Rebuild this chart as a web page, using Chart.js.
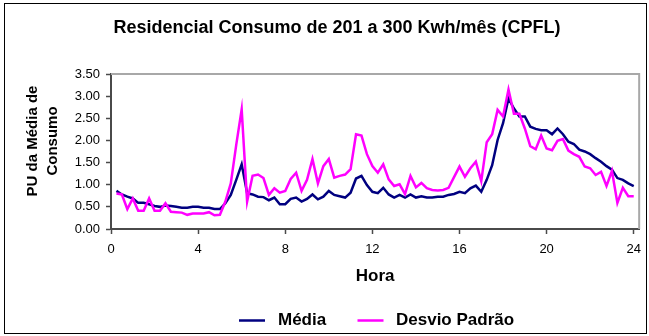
<!DOCTYPE html>
<html>
<head>
<meta charset="utf-8">
<script src="https://cdn.jsdelivr.net/npm/chart.js@4.4.1/dist/chart.umd.min.js"></script>
<style>
  html, body { margin: 0; padding: 0; background: #fff; overflow: hidden; }
  #wrap { width: 649px; height: 336px; }
</style>
</head>
<body>
<div id="wrap"><canvas id="c" width="649" height="336"></canvas></div>
<script>
// Time of day (hours), one reading every 15 minutes
const hours = [
  0.25, 0.5, 0.75, 1, 1.25, 1.5, 1.75, 2, 2.25, 2.5, 2.75, 3,
  3.25, 3.5, 3.75, 4, 4.25, 4.5, 4.75, 5, 5.25, 5.5, 5.75, 6,
  6.25, 6.5, 6.75, 7, 7.25, 7.5, 7.75, 8, 8.25, 8.5, 8.75, 9,
  9.25, 9.5, 9.75, 10, 10.25, 10.5, 10.75, 11, 11.25, 11.5, 11.75, 12,
  12.25, 12.5, 12.75, 13, 13.25, 13.5, 13.75, 14, 14.25, 14.5, 14.75, 15,
  15.25, 15.5, 15.75, 16, 16.25, 16.5, 16.75, 17, 17.25, 17.5, 17.75, 18,
  18.25, 18.5, 18.75, 19, 19.25, 19.5, 19.75, 20, 20.25, 20.5, 20.75, 21,
  21.25, 21.5, 21.75, 22, 22.25, 22.5, 22.75, 23, 23.25, 23.5, 23.75, 24
];

// Média (PU)
const media = [
  0.86, 0.78, 0.73, 0.69, 0.59, 0.59, 0.56, 0.52, 0.50, 0.53, 0.52, 0.50,
  0.48, 0.48, 0.50, 0.50, 0.48, 0.48, 0.45, 0.45, 0.58, 0.77, 1.11, 1.46,
  0.81, 0.78, 0.73, 0.72, 0.65, 0.71, 0.56, 0.56, 0.68, 0.71, 0.62, 0.68,
  0.78, 0.67, 0.73, 0.86, 0.77, 0.74, 0.71, 0.82, 1.14, 1.20, 0.99, 0.84,
  0.81, 0.93, 0.78, 0.71, 0.77, 0.71, 0.78, 0.71, 0.74, 0.71, 0.71, 0.73,
  0.73, 0.77, 0.79, 0.84, 0.81, 0.92, 0.98, 0.84, 1.11, 1.44, 2.01, 2.39,
  2.95, 2.72, 2.54, 2.54, 2.31, 2.26, 2.23, 2.23, 2.14, 2.27, 2.14, 1.97,
  1.92, 1.79, 1.75, 1.69, 1.60, 1.52, 1.42, 1.34, 1.15, 1.11, 1.03, 0.97
];

// Desvio Padrão (PU)
const desvioPadrao = [
  0.80, 0.78, 0.45, 0.69, 0.41, 0.41, 0.69, 0.41, 0.41, 0.58, 0.39, 0.38,
  0.37, 0.32, 0.35, 0.35, 0.35, 0.38, 0.31, 0.32, 0.62, 1.03, 1.90, 2.70,
  0.62, 1.20, 1.23, 1.15, 0.77, 0.92, 0.82, 0.86, 1.13, 1.27, 0.86, 1.11,
  1.58, 1.03, 1.42, 1.58, 1.16, 1.20, 1.23, 1.35, 2.14, 2.11, 1.69, 1.42,
  1.27, 1.46, 1.12, 0.97, 1.01, 0.79, 1.20, 0.94, 1.04, 0.92, 0.88, 0.87,
  0.88, 0.93, 1.17, 1.41, 1.18, 1.37, 1.52, 1.08, 1.96, 2.14, 2.69, 2.54,
  3.15, 2.60, 2.60, 2.27, 1.87, 1.80, 2.11, 1.82, 1.78, 1.99, 2.03, 1.77,
  1.69, 1.63, 1.41, 1.37, 1.22, 1.29, 0.97, 1.31, 0.59, 0.93, 0.74, 0.74
];

const xTickValues = [0, 4, 8, 12, 16, 20, 24];
const yTickValues = [0, 0.5, 1, 1.5, 2, 2.5, 3, 3.5];

const chartTitle = 'Residencial Consumo de 201 a 300 Kwh/mês (CPFL)';
const yAxisTitle = ['PU da Média de', 'Consumo'];
const xAxisTitle = 'Hora';
const seriesNames = ['Média', 'Desvio Padrão'];
const seriesColors = ['#000080', '#FF00FF'];

const FONT = "'Liberation Sans', Arial, Helvetica, sans-serif";
const AXIS_COLOR = '#4a4a4a';

const toPoints = (ys) => hours.map((h, i) => ({ x: h, y: ys[i] }));

// Frame, plot border, title, vertical axis title and legend
const decorations = {
  id: 'decorations',
  afterDraw(chart) {
    const ctx = chart.ctx;
    const a = chart.chartArea;
    ctx.save();

    // outer frame
    ctx.strokeStyle = '#000';
    ctx.lineWidth = 1;
    ctx.strokeRect(4.5, 3.5, 642, 330);

    // plot area top and right edges
    ctx.strokeStyle = '#a8a8a8';
    ctx.lineWidth = 2;
    ctx.beginPath();
    ctx.moveTo(a.left, a.top);
    ctx.lineTo(a.right, a.top);
    ctx.lineTo(a.right, a.bottom);
    ctx.stroke();

    // chart title
    ctx.fillStyle = '#000';
    ctx.font = 'bold 18px ' + FONT;
    ctx.textAlign = 'center';
    ctx.textBaseline = 'middle';
    ctx.fillText(chartTitle, 337, 28);

    // vertical axis title, two lines
    ctx.font = 'bold 15px ' + FONT;
    ctx.textBaseline = 'alphabetic';
    const cy = 141;
    [37, 57].forEach((bx, i) => {
      ctx.save();
      ctx.translate(bx, cy);
      ctx.rotate(-Math.PI / 2);
      ctx.fillText(yAxisTitle[i], 0, 0);
      ctx.restore();
    });

    // legend
    const ly = 320.5;
    const items = [{ x0: 239, tx: 278 }, { x0: 357.5, tx: 396 }];
    ctx.font = 'bold 17px ' + FONT;
    ctx.textAlign = 'left';
    ctx.textBaseline = 'middle';
    chart.data.datasets.forEach((ds, i) => {
      const it = items[i];
      ctx.strokeStyle = ds.borderColor;
      ctx.lineWidth = 2.5;
      ctx.beginPath();
      ctx.moveTo(it.x0, ly);
      ctx.lineTo(it.x0 + 26, ly);
      ctx.stroke();
      ctx.fillStyle = '#000';
      ctx.fillText(ds.label, it.tx, ly);
    });

    ctx.restore();
  }
};

new Chart(document.getElementById('c'), {
  type: 'line',
  data: {
    datasets: [
      {
        label: seriesNames[0],
        data: toPoints(media),
        borderColor: seriesColors[0],
        backgroundColor: seriesColors[0],
        borderWidth: 2.5,
        pointRadius: 0,
        tension: 0,
        order: 1
      },
      {
        label: seriesNames[1],
        data: toPoints(desvioPadrao),
        borderColor: seriesColors[1],
        backgroundColor: seriesColors[1],
        borderWidth: 2.5,
        pointRadius: 0,
        tension: 0,
        order: 0
      }
    ]
  },
  options: {
    responsive: false,
    animation: false,
    devicePixelRatio: 1,
    layout: { padding: { top: 74, right: 4, left: 0, bottom: 0 } },
    plugins: {
      legend: { display: false },
      title: { display: false },
      tooltip: { enabled: false }
    },
    scales: {
      x: {
        type: 'linear',
        min: 0,
        max: 24.25,
        afterBuildTicks: (s) => { s.ticks = xTickValues.map(v => ({ value: v })); },
        afterFit: (s) => { s.height = 107; },
        ticks: {
          font: { family: FONT, size: 13 },
          color: '#000',
          padding: 8,
          maxRotation: 0,
          autoSkip: false
        },
        grid: {
          drawOnChartArea: false,
          drawTicks: true,
          tickLength: 5,
          tickColor: AXIS_COLOR,
          tickWidth: 1.5
        },
        border: { display: true, color: AXIS_COLOR, width: 2 },
        title: {
          display: true,
          text: xAxisTitle,
          color: '#000',
          font: { family: FONT, size: 17, weight: 'bold' },
          padding: { top: 0, bottom: 49 }
        }
      },
      y: {
        min: 0,
        max: 3.5,
        afterBuildTicks: (s) => { s.ticks = yTickValues.map(v => ({ value: v })); },
        afterFit: (s) => { s.width = 111; },
        ticks: {
          font: { family: FONT, size: 13 },
          color: '#000',
          padding: 6,
          callback: (v) => Number(v).toFixed(2)
        },
        grid: {
          drawOnChartArea: false,
          drawTicks: true,
          tickLength: 5,
          tickColor: AXIS_COLOR,
          tickWidth: 1.5
        },
        border: { display: true, color: AXIS_COLOR, width: 2 }
      }
    }
  },
  plugins: [decorations]
});
</script>
</body>
</html>
